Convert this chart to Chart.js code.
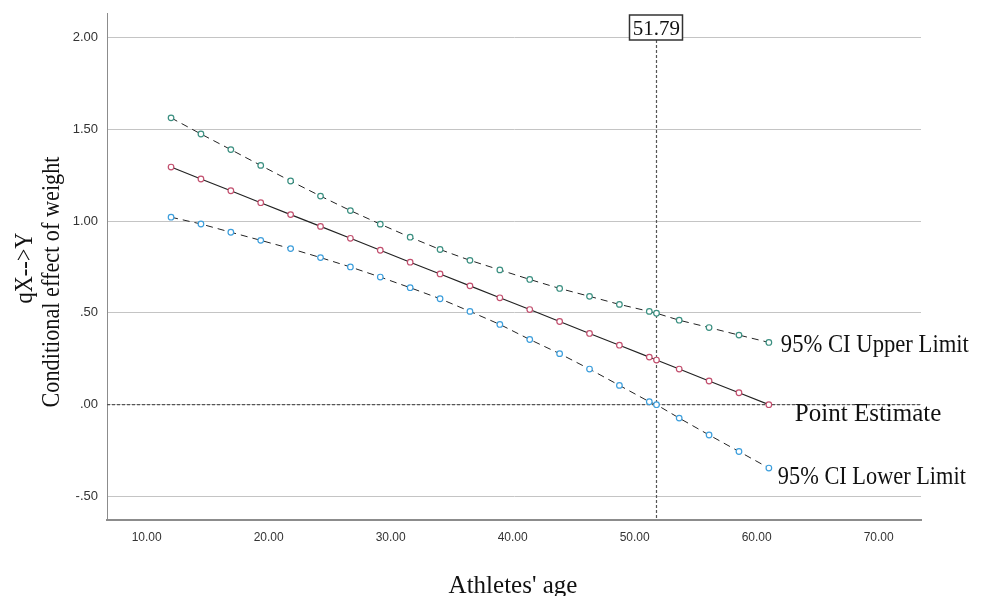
<!DOCTYPE html>
<html>
<head>
<meta charset="utf-8">
<script src="https://cdn.jsdelivr.net/npm/chart.js@4"></script>
<style>
  html, body { margin: 0; padding: 0; background: #fff; }
  #wrap { width: 982px; height: 596px; }
</style>
</head>
<body>
<div id="wrap"><canvas id="jnChart" width="982" height="596"></canvas></div>
<script>
const ages = [12, 14.45, 16.9, 19.35, 21.8, 24.25, 26.7, 29.15, 31.6, 34.05, 36.5, 38.95, 41.4, 43.85, 46.3, 48.75, 51.2, 51.79, 53.65, 56.1, 58.55, 61];
const effect = [1.294, 1.229, 1.165, 1.100, 1.035, 0.971, 0.906, 0.841, 0.776, 0.712, 0.647, 0.582, 0.518, 0.453, 0.388, 0.324, 0.259, 0.243, 0.194, 0.129, 0.065, 0.000];
const upper = [1.562, 1.474, 1.389, 1.303, 1.218, 1.136, 1.057, 0.983, 0.912, 0.845, 0.786, 0.734, 0.682, 0.633, 0.590, 0.546, 0.508, 0.498, 0.460, 0.420, 0.379, 0.339];
const lower = [1.021, 0.984, 0.939, 0.895, 0.850, 0.801, 0.750, 0.695, 0.637, 0.577, 0.508, 0.437, 0.355, 0.278, 0.194, 0.105, 0.016, 0.000, -0.073, -0.165, -0.255, -0.345];

const xTicks = [10, 20, 30, 40, 50, 60, 70];
const xTickLabels = ["10.00", "20.00", "30.00", "40.00", "50.00", "60.00", "70.00"];
const yTicks = [-0.5, 0, 0.5, 1, 1.5, 2];
const yTickLabels = ["-.50", ".00", ".50", "1.00", "1.50", "2.00"];

const jnPoint = 51.79;
const jnLabel = "51.79";
const seriesNames = ["95% CI Upper Limit", "Point Estimate", "95% CI Lower Limit"];
const xTitle = "Athletes' age";
const yTitle = ["qX-->Y", "Conditional effect of weight"];

const serif = "'Liberation Serif', 'Times New Roman', serif";
const sans = "'Liberation Sans', Arial, sans-serif";

function pts(ys) {
  return ages.map((a, i) => ({ x: a, y: ys[i] }));
}

// reference lines, labels and axis titles
const extras = {
  id: "extras",
  beforeDatasetsDraw(chart) {
    const { ctx, chartArea, scales: { x, y } } = chart;
    const px = x.getPixelForValue(jnPoint);
    const py0 = y.getPixelForValue(0);
    ctx.save();
    ctx.strokeStyle = "#555";
    ctx.lineWidth = 1.2;
    ctx.setLineDash([3, 2]);
    ctx.beginPath();
    ctx.moveTo(chartArea.left, py0);
    ctx.lineTo(chartArea.right, py0);
    ctx.moveTo(px, 40);
    ctx.lineTo(px, chartArea.bottom);
    ctx.stroke();
    ctx.restore();
  },
  afterDraw(chart) {
    const { ctx, scales: { x, y } } = chart;
    const px = x.getPixelForValue(jnPoint);
    const last = ages.length - 1;
    const lx = x.getPixelForValue(ages[last]);
    ctx.save();

    // 51.79 box
    ctx.fillStyle = "#fff";
    ctx.fillRect(px - 27, 15, 53, 25);
    ctx.strokeStyle = "#333";
    ctx.lineWidth = 1.5;
    ctx.strokeRect(px - 27, 15, 53, 25);
    ctx.fillStyle = "#111";
    ctx.font = "21px " + serif;
    ctx.textAlign = "center";
    ctx.textBaseline = "alphabetic";
    ctx.fillText(jnLabel, px, 35, 48);

    // series labels
    ctx.font = "25px " + serif;
    ctx.textAlign = "left";
    ctx.fillText(seriesNames[0], lx + 12, y.getPixelForValue(upper[last]) + 10, 188);
    ctx.fillText(seriesNames[1], lx + 26, y.getPixelForValue(effect[last]) + 16, 150);
    ctx.fillText(seriesNames[2], lx + 9, y.getPixelForValue(lower[last]) + 16, 188);

    // x title
    ctx.textAlign = "center";
    ctx.fillText(xTitle, 513, 593, 130);

    // y title (rotated, two lines)
    ctx.save();
    ctx.translate(32, 268);
    ctx.rotate(-Math.PI / 2);
    ctx.fillText(yTitle[0], 0, 0, 71);
    ctx.restore();
    ctx.save();
    ctx.translate(59, 282);
    ctx.rotate(-Math.PI / 2);
    ctx.fillText(yTitle[1], 0, 0, 251);
    ctx.restore();

    ctx.restore();
  }
};

const common = {
  fill: false,
  tension: 0,
  pointRadius: 2.8,
  pointBorderWidth: 1.2,
  pointBackgroundColor: "#fff",
  borderWidth: 1
};

new Chart(document.getElementById("jnChart"), {
  type: "line",
  data: {
    datasets: [
      Object.assign({}, common, {
        label: seriesNames[0],
        data: pts(upper),
        borderColor: "#222",
        borderDash: [7, 5],
        pointBorderColor: "#3a8f80"
      }),
      Object.assign({}, common, {
        label: seriesNames[1],
        data: pts(effect),
        borderColor: "#222",
        borderWidth: 1.2,
        pointBorderColor: "#c24f6e"
      }),
      Object.assign({}, common, {
        label: seriesNames[2],
        data: pts(lower),
        borderColor: "#222",
        borderDash: [7, 5],
        pointBorderColor: "#3c9edc"
      })
    ]
  },
  options: {
    responsive: false,
    animation: false,
    layout: { padding: { top: 13, right: 61, left: 0, bottom: 0 } },
    plugins: {
      legend: { display: false },
      tooltip: { enabled: false }
    },
    scales: {
      x: {
        type: "linear",
        min: 6.75,
        max: 73.47,
        afterFit(scale) { scale.height = 76; },
        afterBuildTicks(scale) { scale.ticks = xTicks.map(v => ({ value: v })); },
        grid: { display: false, drawTicks: false },
        border: { display: true, color: "#8c8c8c", width: 2 },
        ticks: {
          padding: 10,
          color: "#333",
          font: { family: sans, size: 12 },
          maxRotation: 0,
          callback: (v) => xTickLabels[xTicks.indexOf(v)]
        }
      },
      y: {
        type: "linear",
        min: -0.628,
        max: 2.133,
        afterFit(scale) {
          scale.width = 107;
          scale.paddingTop = 0;
          scale.paddingBottom = 0;
        },
        afterBuildTicks(scale) { scale.ticks = yTicks.map(v => ({ value: v })); },
        grid: { color: "#c4c4c4", lineWidth: 1, drawTicks: false },
        border: { display: true, color: "#8c8c8c", width: 1 },
        ticks: {
          padding: 9,
          color: "#333",
          font: { family: sans, size: 13 },
          callback: (v) => yTickLabels[yTicks.indexOf(v)]
        }
      }
    }
  },
  plugins: [extras]
});
</script>
</body>
</html>
